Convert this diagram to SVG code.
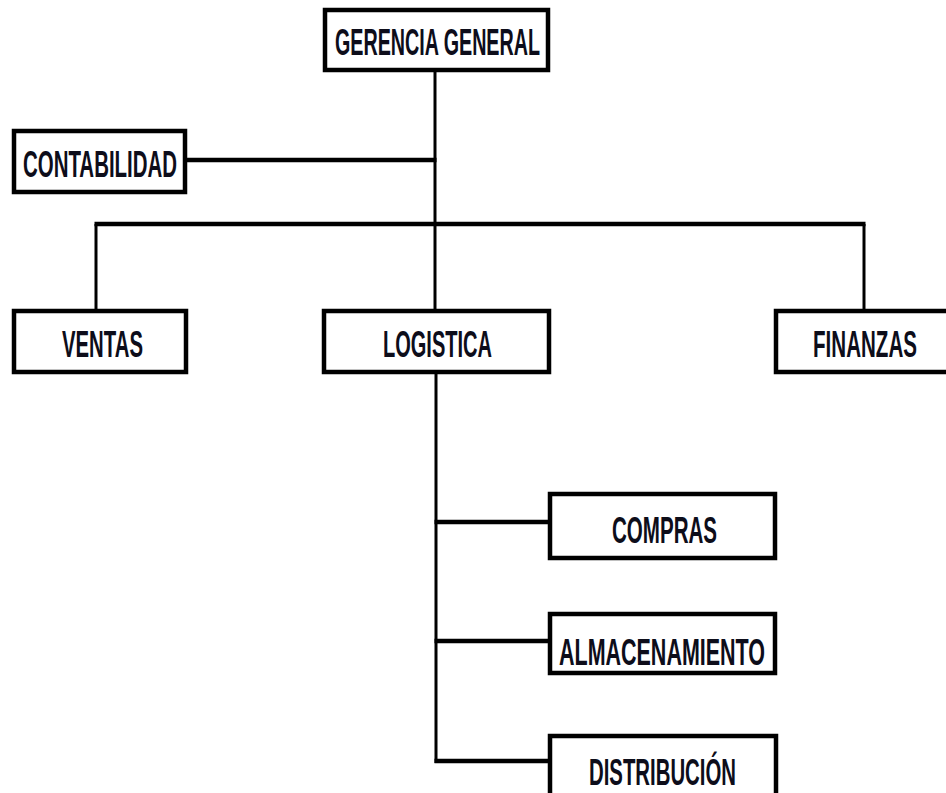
<svg xmlns="http://www.w3.org/2000/svg" width="946" height="793" viewBox="0 0 946 793">
  <style>
    .box { fill: #ffffff; stroke: #000000; stroke-width: 4.5; }
    .lbl { font-family: "Liberation Sans", Arial, sans-serif; font-weight: bold; font-size: 36px; fill: #0d0d1a; }
    .wire { stroke: #000000; fill: none; }
    .h { stroke-width: 4.5; }
    .v { stroke-width: 3; }
  </style>
  <rect width="946" height="793" fill="#ffffff"/>

  <!-- connectors -->
  <g id="connectors" class="wire">
    <line class="v" x1="435" y1="70" x2="435" y2="311"/>
    <line class="h" x1="185" y1="160" x2="436.5" y2="160"/>
    <line class="h" x1="94.5" y1="224" x2="865.5" y2="224"/>
    <line class="v" x1="96" y1="224" x2="96" y2="311"/>
    <line class="v" x1="864" y1="224" x2="864" y2="311"/>
    <line class="v" x1="436" y1="372" x2="436" y2="763"/>
    <line class="h" x1="434.5" y1="522" x2="550" y2="522"/>
    <line class="h" x1="434.5" y1="641" x2="550" y2="641"/>
    <line class="h" x1="434.5" y1="761" x2="550" y2="761"/>
  </g>

  <!-- labels use a horizontally condensed bold sans -->
  <g id="gerencia-general">
    <rect class="box" x="325" y="10" width="223" height="60"/>
    <text class="lbl" transform="translate(335,55) scale(0.62,1)" textLength="330.6" lengthAdjust="spacingAndGlyphs">GERENCIA GENERAL</text>
  </g>

  <g id="contabilidad">
    <rect class="box" x="14" y="131" width="171" height="61"/>
    <text class="lbl" transform="translate(23,177) scale(0.62,1)" textLength="248.4" lengthAdjust="spacingAndGlyphs">CONTABILIDAD</text>
  </g>

  <g id="ventas">
    <rect class="box" x="14" y="311" width="172" height="61"/>
    <text class="lbl" transform="translate(62,357) scale(0.62,1)" textLength="130.6" lengthAdjust="spacingAndGlyphs">VENTAS</text>
  </g>

  <g id="logistica">
    <rect class="box" x="324" y="311" width="225" height="61"/>
    <text class="lbl" transform="translate(383,357) scale(0.62,1)" textLength="175.8" lengthAdjust="spacingAndGlyphs">LOGISTICA</text>
  </g>

  <g id="finanzas">
    <rect class="box" x="776" y="311" width="180" height="61"/>
    <text class="lbl" transform="translate(813,357) scale(0.62,1)" textLength="167.7" lengthAdjust="spacingAndGlyphs">FINANZAS</text>
  </g>

  <g id="compras">
    <rect class="box" x="550" y="494" width="225" height="64"/>
    <text class="lbl" transform="translate(612,543) scale(0.62,1)" textLength="169.4" lengthAdjust="spacingAndGlyphs">COMPRAS</text>
  </g>

  <g id="almacenamiento">
    <rect class="box" x="550" y="614" width="225" height="59"/>
    <text class="lbl" transform="translate(559,665) scale(0.62,1)" textLength="332.3" lengthAdjust="spacingAndGlyphs">ALMACENAMIENTO</text>
  </g>

  <g id="distribucion">
    <rect class="box" x="550" y="736" width="226" height="70"/>
    <text class="lbl" transform="translate(589,785) scale(0.62,1)" textLength="237.1" lengthAdjust="spacingAndGlyphs">DISTRIBUCIÓN</text>
  </g>
</svg>
